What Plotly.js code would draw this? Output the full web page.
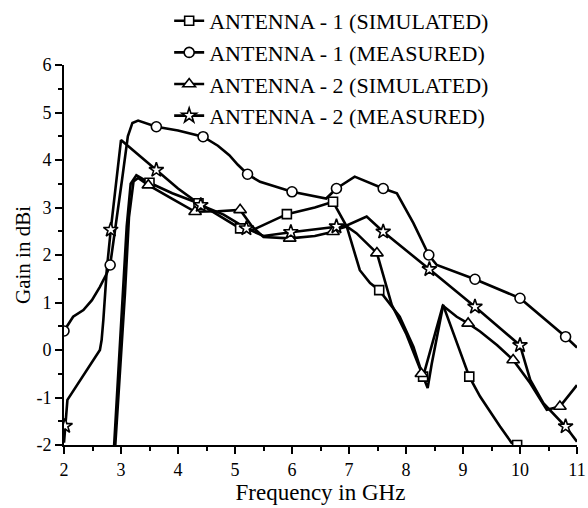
<!DOCTYPE html>
<html>
<head>
<meta charset="utf-8">
<script src="https://cdn.plot.ly/plotly-3.0.1.min.js"></script>
<style>html,body{margin:0;padding:0;background:#fff;}#chart{width:588px;height:508px;}</style>
</head>
<body>
<div id="chart"></div>
<script>
// ---- Data ----
const seriesNames = ["ANTENNA - 1 (SIMULATED)", "ANTENNA - 1 (MEASURED)", "ANTENNA - 2 (SIMULATED)", "ANTENNA - 2 (MEASURED)"];

// Antenna 1 simulated (curve)
const a1sFreq = [2.88, 2.95, 3.03, 3.10, 3.17, 3.27, 3.50, 3.90, 4.36, 4.70, 5.09, 5.30, 5.91, 6.40, 6.72, 6.96, 7.05, 7.19, 7.37, 7.53, 7.89, 8.13, 8.30, 8.65, 9.11, 9.30, 9.65, 9.85, 9.95];
const a1sGain = [-2.0, -0.6, 1.0, 2.6, 3.5, 3.68, 3.52, 3.30, 3.09, 2.85, 2.56, 2.52, 2.86, 3.00, 3.12, 2.60, 2.25, 1.68, 1.41, 1.26, 0.70, 0.07, -0.56, 0.95, -0.56, -0.98, -1.61, -1.95, -2.0];
// Antenna 1 simulated (marker points)
const a1sMarkFreq = [3.50, 4.36, 5.09, 5.91, 6.72, 7.53, 8.30, 9.11, 9.95];
const a1sMarkGain = [3.52, 3.09, 2.56, 2.86, 3.12, 1.26, -0.56, -0.56, -2.0];

// Antenna 1 measured
const a1mFreq = [2.00, 2.16, 2.34, 2.49, 2.63, 2.75, 2.81, 2.92, 3.02, 3.12, 3.20, 3.30, 3.62, 4.00, 4.44, 4.70, 4.90, 5.05, 5.22, 5.44, 6.00, 6.60, 6.78, 7.10, 7.60, 7.84, 8.13, 8.40, 8.54, 9.21, 10.00, 10.80, 11.00];
const a1mGain = [0.40, 0.70, 0.84, 1.05, 1.33, 1.61, 1.79, 2.70, 3.60, 4.50, 4.78, 4.83, 4.70, 4.62, 4.49, 4.30, 4.10, 3.90, 3.70, 3.54, 3.33, 3.19, 3.40, 3.65, 3.40, 3.30, 2.67, 2.00, 1.79, 1.49, 1.09, 0.28, 0.05];
const a1mMarkFreq = [2.00, 2.81, 3.62, 4.44, 5.22, 6.00, 6.78, 7.60, 8.40, 9.21, 10.00, 10.80];
const a1mMarkGain = [0.40, 1.79, 4.70, 4.49, 3.70, 3.33, 3.40, 3.40, 2.00, 1.49, 1.09, 0.28];

// Antenna 2 simulated
const a2sFreq = [2.90, 2.98, 3.07, 3.14, 3.22, 3.30, 3.48, 3.90, 4.30, 4.70, 5.09, 5.30, 5.50, 5.96, 6.40, 6.72, 6.84, 6.96, 7.13, 7.49, 7.62, 7.75, 8.00, 8.15, 8.27, 8.38, 8.45, 8.65, 8.89, 9.09, 9.30, 9.60, 9.88, 10.18, 10.47, 10.70, 11.00];
const a2sGain = [-2.0, -0.5, 1.2, 2.8, 3.55, 3.62, 3.47, 3.18, 2.91, 2.92, 2.95, 2.60, 2.38, 2.35, 2.40, 2.49, 2.56, 2.60, 2.46, 2.04, 1.50, 0.95, 0.35, -0.10, -0.50, -0.80, -0.30, 0.93, 0.70, 0.56, 0.39, 0.10, -0.21, -0.70, -1.26, -1.19, -0.74];
const a2sMarkFreq = [3.48, 4.30, 5.09, 5.96, 6.72, 7.49, 8.27, 9.09, 9.88, 10.70];
const a2sMarkGain = [3.47, 2.91, 2.95, 2.35, 2.49, 2.04, -0.50, 0.56, -0.21, -1.19];

// Antenna 2 measured
const a2mFreq = [2.00, 2.02, 2.04, 2.06, 2.63, 2.66, 2.69, 2.75, 2.82, 2.91, 3.00, 3.62, 4.00, 4.40, 4.80, 5.20, 5.50, 5.98, 6.78, 6.96, 7.31, 7.60, 8.41, 9.21, 10.00, 10.18, 10.41, 10.58, 10.80, 11.00];
const a2mGain = [-1.95, -1.60, -1.30, -1.05, 0.00, 0.21, 0.63, 1.68, 2.53, 3.50, 4.42, 3.79, 3.40, 3.05, 2.85, 2.56, 2.40, 2.48, 2.60, 2.62, 2.81, 2.49, 1.70, 0.91, 0.10, -0.63, -1.12, -1.33, -1.61, -1.93];
const a2mMarkFreq = [2.02, 2.82, 3.62, 4.40, 5.20, 5.98, 6.78, 7.60, 8.41, 9.21, 10.00, 10.80];
const a2mMarkGain = [-1.60, 2.53, 3.79, 3.05, 2.56, 2.48, 2.60, 2.49, 1.70, 0.91, 0.10, -1.61];

const xTicks = [2, 3, 4, 5, 6, 7, 8, 9, 10, 11];
const yTicks = [-2, -1, 0, 1, 2, 3, 4, 5, 6];

// ---- Styles ----
const FONT = "Times New Roman, Liberation Serif, DejaVu Serif, serif";
const symbols = ["square", "circle", "triangle-up", "star"];
const markerSizes = [9, 10, 11, 11];

const curves = [
  [a1sFreq, a1sGain, a1sMarkFreq, a1sMarkGain],
  [a1mFreq, a1mGain, a1mMarkFreq, a1mMarkGain],
  [a2sFreq, a2sGain, a2sMarkFreq, a2sMarkGain],
  [a2mFreq, a2mGain, a2mMarkFreq, a2mMarkGain]
];

const traces = [];
curves.forEach((c, i) => {
  traces.push({
    x: c[0], y: c[1], type: 'scatter', mode: 'lines',
    line: {color: '#000', width: 2.6}, showlegend: false, hoverinfo: 'skip'
  });
});
curves.forEach((c, i) => {
  traces.push({
    x: c[2], y: c[3], type: 'scatter', mode: 'markers',
    marker: {symbol: symbols[i], size: markerSizes[i], color: '#fff', line: {color: '#000', width: 1.6}},
    showlegend: false, hoverinfo: 'skip'
  });
});
// legend entries
seriesNames.forEach((n, i) => {
  traces.push({
    x: [null], y: [null], type: 'scatter', mode: 'lines+markers', name: n,
    legendgroup: 'g' + i,
    line: {color: '#000', width: 2.6},
    marker: {symbol: symbols[i], size: markerSizes[i], color: '#fff', line: {color: '#000', width: 1.6}}
  });
});

const layout = {
  width: 588, height: 508,
  margin: {l: 64, r: 11, t: 65, b: 63, autoexpand: false},
  paper_bgcolor: '#fff', plot_bgcolor: '#fff',
  font: {family: FONT, color: '#000', size: 17},
  showlegend: true,
  legend: {
    x: 0.205, y: 1.171, xanchor: 'left', yanchor: 'top',
    bgcolor: 'rgba(0,0,0,0)', borderwidth: 0,
    font: {family: FONT, size: 22, color: '#000'},
    traceorder: 'grouped', tracegroupgap: 0
  },
  xaxis: {
    range: [2, 11], tickvals: xTicks, ticktext: xTicks.map(String),
    showgrid: false, zeroline: false, showline: true, linecolor: '#000', linewidth: 2,
    ticks: 'outside', ticklen: 7, tickwidth: 2, tickcolor: '#000',
    minor: {dtick: 0.5, tick0: 2, ticks: 'outside', ticklen: 4, tickwidth: 2, tickcolor: '#000', showgrid: false},
    tickfont: {family: FONT, size: 18},
    title: {text: 'Frequency in GHz', font: {family: FONT, size: 23}, standoff: 0}
  },
  yaxis: {
    range: [-2, 6], tickvals: yTicks, ticktext: yTicks.map(String),
    showgrid: false, zeroline: false, showline: true, linecolor: '#000', linewidth: 2,
    ticks: 'outside', ticklen: 7, tickwidth: 2, tickcolor: '#000',
    minor: {dtick: 0.5, tick0: -2, ticks: 'outside', ticklen: 4, tickwidth: 2, tickcolor: '#000', showgrid: false},
    tickfont: {family: FONT, size: 18},
    title: {text: 'Gain in dBi', font: {family: FONT, size: 21}, standoff: 0}
  }
};

Plotly.newPlot('chart', traces, layout, {displayModeBar: false, staticPlot: true});
</script>
</body>
</html>
